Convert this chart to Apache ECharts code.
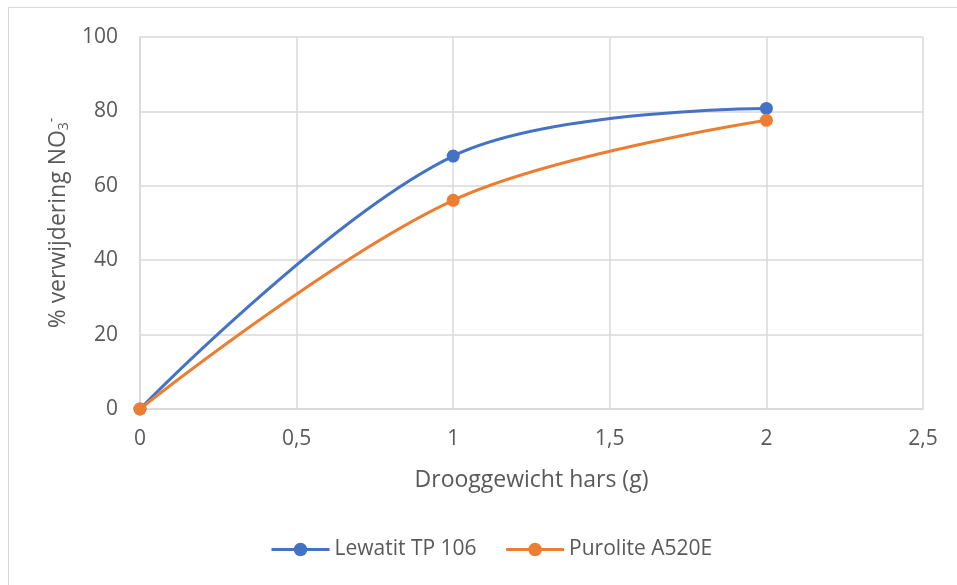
<!DOCTYPE html>
<html>
<head>
<meta charset="utf-8">
<script src="https://cdn.jsdelivr.net/npm/echarts@6/dist/echarts.min.js"></script>
<style>
  html, body { margin: 0; padding: 0; background: #fff; }
  #chart { width: 957px; height: 585px; }
</style>
</head>
<body>
<div id="chart"></div>
<script>
// waarden
var droogGewicht = [0, 1, 2];
var lewatit = [0, 68, 80.8];
var purolite = [0, 56.1, 77.6];
var seriesNames = ['Lewatit TP 106', 'Purolite A520E'];

var chart = echarts.init(document.getElementById('chart'));
var fontFam = '"Open Sans", "Noto Sans", sans-serif';
var txt = '#595959';
var gridCol = '#d9d9d9';

function pairs(ys) {
  return droogGewicht.map(function (x, i) { return [x, ys[i]]; });
}

var option = {
  backgroundColor: '#fff',
  animation: false,
  graphic: [
    { type: 'line', shape: { x1: 8, y1: 7.5, x2: 957, y2: 7.5 }, style: { stroke: gridCol, lineWidth: 1 } },
    { type: 'line', shape: { x1: 8.5, y1: 7, x2: 8.5, y2: 585 }, style: { stroke: gridCol, lineWidth: 1 } }
  ],
  grid: { left: 140, right: 34, top: 37, bottom: 176 },
  legend: {
    top: 534,
    left: 265,
    itemWidth: 58,
    itemHeight: 17,
    itemGap: 28,
    lineStyle: { width: 3 },
    textStyle: { color: txt, fontSize: 21, fontFamily: fontFam },
    data: seriesNames
  },
  xAxis: {
    type: 'value',
    min: 0, max: 2.5, interval: 0.5,
    name: 'Drooggewicht hars (g)',
    nameLocation: 'middle',
    nameGap: 60,
    nameTextStyle: { color: txt, fontSize: 23, fontFamily: fontFam },
    axisLine: { show: true, lineStyle: { color: gridCol, width: 1.5 } },
    axisTick: { show: false },
    axisLabel: {
      color: txt, fontSize: 21, fontFamily: fontFam, margin: 20,
      formatter: function (v) { return String(v).replace('.', ','); }
    },
    splitLine: { show: true, lineStyle: { color: gridCol, width: 1.5 } }
  },
  yAxis: {
    type: 'value',
    min: 0, max: 100, interval: 20,
    name: '{a|% verwijdering NO}{s|3}{p|-}',
    nameLocation: 'middle',
    nameGap: 64,
    nameTextStyle: {
      color: txt, fontSize: 23, fontFamily: fontFam,
      rich: {
        a: { fontSize: 23, color: txt, fontFamily: fontFam },
        s: { fontSize: 14, color: txt, fontFamily: fontFam, verticalAlign: 'bottom', padding: [12, 0, 0, 0] },
        p: { fontSize: 14, color: txt, fontFamily: fontFam, verticalAlign: 'top', padding: [0, 0, 12, 0] }
      }
    },
    axisLine: { show: true, lineStyle: { color: gridCol, width: 1.5 } },
    axisTick: { show: false },
    axisLabel: { color: txt, fontSize: 21, fontFamily: fontFam, margin: 22 },
    splitLine: { show: true, lineStyle: { color: gridCol, width: 1.5 } }
  },
  series: [
    {
      name: seriesNames[0],
      type: 'line',
      smooth: 0.35,
      data: pairs(lewatit),
      symbol: 'circle',
      symbolSize: 13,
      lineStyle: { color: '#4472c4', width: 3 },
      itemStyle: { color: '#4472c4' }
    },
    {
      name: seriesNames[1],
      type: 'line',
      smooth: 0.35,
      data: pairs(purolite),
      symbol: 'circle',
      symbolSize: 13,
      lineStyle: { color: '#ed7d31', width: 3 },
      itemStyle: { color: '#ed7d31' }
    }
  ]
};

chart.setOption(option);
</script>
</body>
</html>
